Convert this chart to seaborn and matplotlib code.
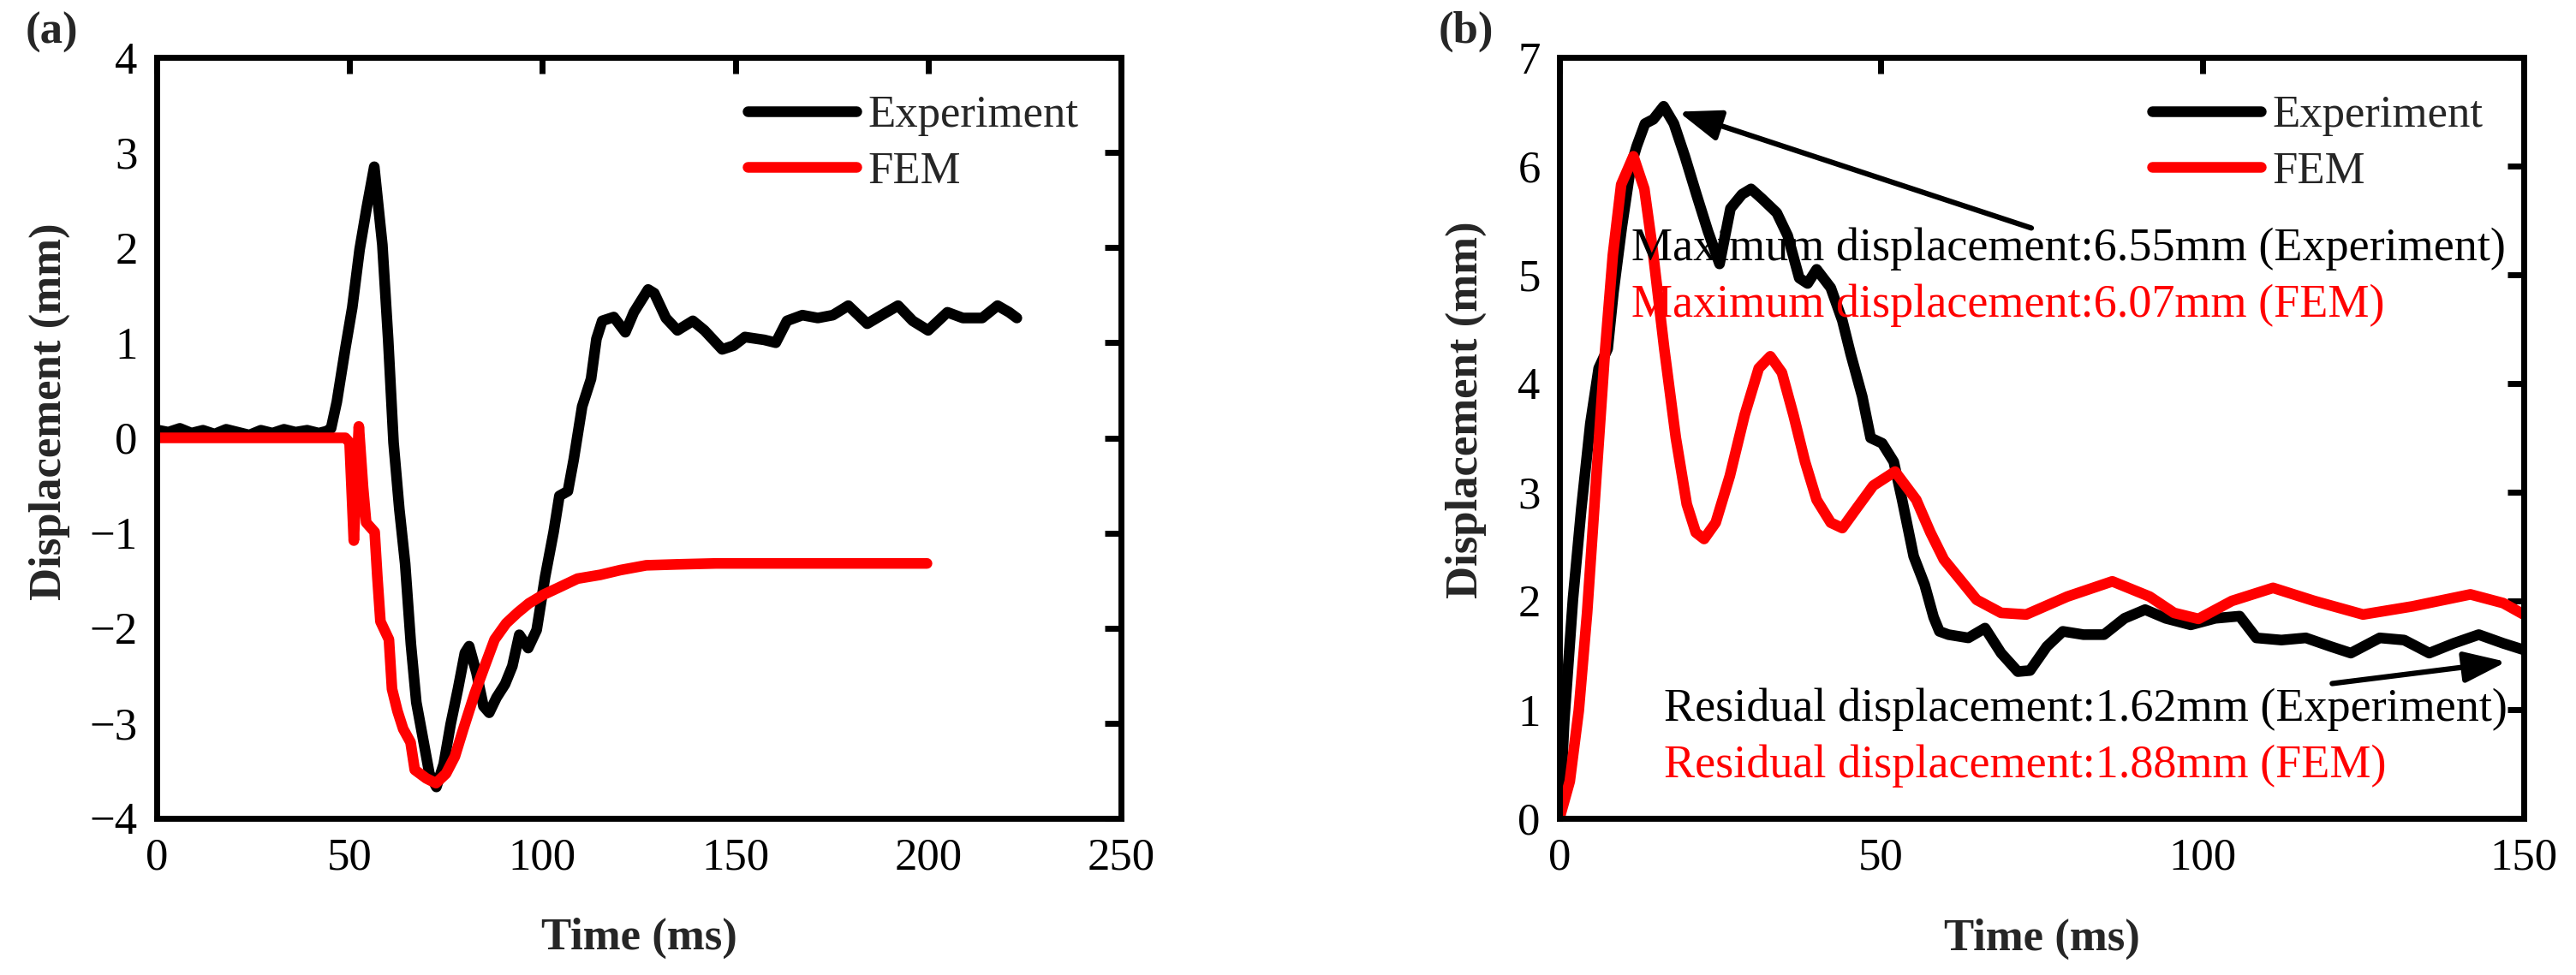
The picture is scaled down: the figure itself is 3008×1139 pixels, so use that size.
import matplotlib
matplotlib.use("Agg")
import matplotlib.pyplot as plt
import seaborn as sns

# (a) time / displacement
a_exp_t = [0.5, 3, 6, 9, 12, 15, 18, 21, 24, 27, 30, 33, 36, 39, 42, 44, 45.2, 46.7, 48.9, 50.7,
           52.6, 54.4, 56.4, 58.5, 60, 61.4, 62.9, 64.4, 65.9, 67.3, 68.8, 70.7, 72.5, 74.4, 76.2,
           78.1, 79.9, 81.0, 82.9, 84.7, 86.2, 88.1, 90.3, 92.2, 94.0, 96.3, 98.5, 100.7, 102.9,
           104.4, 106.6, 108.1, 110.3, 112.6, 114.0, 115.5, 118.5, 121.5, 123.7, 127.4, 129, 132,
           135, 139, 142, 146.6, 149.6, 152.5, 157.5, 160.5, 163.4, 167.4, 171.4, 175.3, 179.3,
           184.2, 189.2, 192.2, 196, 200, 205, 209, 214, 218, 221, 223]
a_exp_y = [0.08, 0.06, 0.1, 0.05, 0.08, 0.04, 0.09, 0.06, 0.03, 0.08, 0.05, 0.09, 0.06, 0.08, 0.05,
           0.07, 0.1, 0.38, 0.94, 1.37, 1.98, 2.41, 2.85, 2.03, 1.04, -0.05, -0.75, -1.32, -2.17,
           -2.78, -3.11, -3.53, -3.67, -3.43, -3.01, -2.64, -2.26, -2.19, -2.47, -2.82, -2.89,
           -2.73, -2.59, -2.40, -2.07, -2.21, -2.02, -1.46, -0.99, -0.61, -0.56, -0.23, 0.33, 0.62,
           1.04, 1.23, 1.27, 1.11, 1.32, 1.56, 1.52, 1.26, 1.13, 1.23, 1.13, 0.93, 0.97, 1.06, 1.03,
           1.0, 1.23, 1.29, 1.26, 1.29, 1.39, 1.2, 1.32, 1.39, 1.23, 1.13, 1.32, 1.26, 1.26, 1.39,
           1.32, 1.26]
a_fem_t = [0.5, 10, 20, 30, 40, 48.9, 50, 51.1, 52.4, 53.5, 54.3, 56.5, 57.2, 58, 60.2, 61, 62.4,
           63.9, 65.8, 66.9, 69.9, 72.4, 75, 77.3, 79.5, 82.5, 85.4, 87.6, 90.6, 93.5, 96.5, 100.2,
           103.9, 109.1, 115, 120.2, 126.9, 135, 145, 160, 180, 199.7]
a_fem_y = [0, 0, 0, 0, 0, 0, -0.05, -1.08, 0.12, -0.52, -0.89, -0.99, -1.46, -1.93, -2.12, -2.64,
           -2.87, -3.06, -3.20, -3.49, -3.58, -3.63, -3.53, -3.35, -3.06, -2.68, -2.36, -2.12,
           -1.95, -1.84, -1.74, -1.65, -1.58, -1.48, -1.44, -1.39, -1.34, -1.33, -1.32, -1.32,
           -1.32, -1.32]

# (b)
b_exp_t = [0, 0.75, 2.1, 3.4, 4.8, 6.1, 7.5, 8.4, 9.7, 11.1, 12.0, 13.3, 14.6, 16.2, 17.8, 19.5,
           21.3, 23.1, 24.9, 26.6, 28.4, 29.8, 31.5, 33.8, 35.5, 37.3, 38.6, 40, 42.2, 44, 45.3,
           47.1, 48.4, 50.2, 52, 53.3, 55.1, 56.8, 58.2, 59.1, 60.5, 63.6, 66.2, 68.7, 71.3, 73.2,
           75.8, 78.3, 81.5, 84.7, 87.9, 91.1, 94.3, 98.2, 102, 105.8, 108.4, 112.3, 116.1, 120,
           123.1, 127.6, 131.4, 135.3, 139.1, 143, 146.8, 150]
b_exp_y = [0, 0.9, 2.02, 2.85, 3.63, 4.14, 4.32, 4.84, 5.44, 6.0, 6.18, 6.39, 6.43, 6.55, 6.39,
           6.09, 5.74, 5.40, 5.10, 5.61, 5.74, 5.79, 5.70, 5.57, 5.36, 4.97, 4.92, 5.05, 4.88, 4.58,
           4.27, 3.88, 3.50, 3.45, 3.28, 2.93, 2.41, 2.15, 1.85, 1.72, 1.69, 1.66, 1.75, 1.52, 1.35,
           1.36, 1.58, 1.72, 1.69, 1.69, 1.84, 1.92, 1.84, 1.78, 1.84, 1.86, 1.66, 1.64, 1.66, 1.58,
           1.52, 1.66, 1.64, 1.52, 1.61, 1.69, 1.61, 1.55]
b_fem_t = [0, 1.6, 3.0, 4.3, 5.6, 7.0, 8.3, 9.6, 11.5, 13.2, 14.5, 16.3, 18.1, 19.8, 21.2, 22.5,
           24.3, 26.5, 28.8, 31.0, 32.8, 34.6, 36.4, 38.2, 40, 42.2, 44, 46.2, 48.8, 52.2, 55.5,
           57.7, 59.8, 64.9, 68.7, 72.6, 79, 86, 91.8, 95.6, 99.4, 104.6, 111, 117.4, 125, 132.7,
           141.7, 146.8, 150]
b_fem_y = [0, 0.34, 0.99, 1.89, 3.02, 4.23, 5.18, 5.83, 6.09, 5.79, 5.23, 4.32, 3.50, 2.89, 2.63,
           2.57, 2.72, 3.15, 3.71, 4.14, 4.25, 4.10, 3.71, 3.28, 2.93, 2.72, 2.67, 2.85, 3.06, 3.19,
           2.93, 2.63, 2.38, 2.01, 1.89, 1.875, 2.04, 2.18, 2.04, 1.89, 1.835, 2.0, 2.12, 2.0, 1.875,
           1.95, 2.06, 1.98, 1.875]

a_xticks = [0, 50, 100, 150, 200, 250]
a_yticks = [-4, -3, -2, -1, 0, 1, 2, 3, 4]
b_xticks = [0, 50, 100, 150]
b_yticks = [0, 1, 2, 3, 4, 5, 6, 7]

max_exp_txt = "Maximum displacement:6.55mm (Experiment)"
max_fem_txt = "Maximum displacement:6.07mm (FEM)"
res_exp_txt = "Residual displacement:1.62mm (Experiment)"
res_fem_txt = "Residual displacement:1.88mm (FEM)"

sns.set_theme(style="white")
plt.rcParams["font.family"] = ["Liberation Serif", "DejaVu Serif"]

FS = 38
LW = 9
RED = "#ff0000"

fig = plt.figure(figsize=(30.08, 11.39), dpi=100)
W, H = 3008.0, 1139.0
ax_a = fig.add_axes([183 / W, (H - 956) / H, 1126 / W, 889 / H])
ax_b = fig.add_axes([1821 / W, (H - 956) / H, 1126 / W, 889 / H])


def style_axis(ax, xlim, ylim, xt, yt):
    ax.set_xlim(*xlim)
    ax.set_ylim(*ylim)
    ax.set_xticks(xt)
    ax.set_yticks(yt)
    ax.tick_params(direction="in", length=14, width=5, top=True, right=True,
                   labelsize=FS, pad=16, colors="black")
    for sp in ax.spines.values():
        sp.set_visible(True)
        sp.set_linewidth(5)
        sp.set_color("black")
    ax.set_xlabel("")
    ax.set_ylabel("")
    ax.grid(False)


sns.lineplot(x=a_exp_t, y=a_exp_y, ax=ax_a, color="black", lw=LW, label="Experiment",
             solid_joinstyle="round", solid_capstyle="round")
sns.lineplot(x=a_fem_t, y=a_fem_y, ax=ax_a, color=RED, lw=LW, label="FEM",
             solid_joinstyle="round", solid_capstyle="round")
style_axis(ax_a, (0, 250), (-4, 4), a_xticks, a_yticks)

sns.lineplot(x=b_exp_t, y=b_exp_y, ax=ax_b, color="black", lw=LW, label="Experiment",
             solid_joinstyle="round", solid_capstyle="round")
sns.lineplot(x=b_fem_t, y=b_fem_y, ax=ax_b, color=RED, lw=LW, label="FEM",
             solid_joinstyle="round", solid_capstyle="round")
style_axis(ax_b, (0, 150), (0, 7), b_xticks, b_yticks)

for ax, lx in [(ax_a, 0.613), (ax_b, 0.615)]:
    leg = ax.legend(loc="upper left", bbox_to_anchor=(lx, 0.95), frameon=False,
                    fontsize=FS, handlelength=2.4, handletextpad=0.25,
                    labelspacing=0.33, borderpad=0, borderaxespad=0)
    for h in leg.get_lines():
        h.set_linewidth(LW)

# annotations in (b)
AFS = 39
ax_b.text(11.2, 5.24, max_exp_txt, fontsize=AFS, color="black", ha="left", va="center")
ax_b.text(11.2, 4.72, max_fem_txt, fontsize=AFS, color=RED, ha="left", va="center")
ax_b.text(16.3, 1.0, res_exp_txt, fontsize=AFS, color="black", ha="left", va="center")
ax_b.text(16.3, 0.48, res_fem_txt, fontsize=AFS, color=RED, ha="left", va="center")

arrow = dict(arrowstyle="-|>,head_length=1.5,head_width=0.55", color="black", lw=4.5,
             mutation_scale=20, shrinkA=0, shrinkB=0)
ax_b.annotate("", xy=(18.5, 6.5), xytext=(73.4, 5.43), arrowprops=arrow)
ax_b.annotate("", xy=(147.3, 1.44), xytext=(120.2, 1.24), arrowprops=arrow)

# axis titles and panel tags
fig.text(58 / W, 1 - 481 / H, "Displacement (mm)", rotation=90, fontsize=FS,
         fontweight="bold", ha="center", va="center")
fig.text(1712 / W, 1 - 479 / H, "Displacement (mm)", rotation=90, fontsize=FS,
         fontweight="bold", ha="center", va="center")
fig.text(746 / W, 1 - 1096 / H, "Time (ms)", fontsize=FS, fontweight="bold",
         ha="center", va="center")
fig.text(2384 / W, 1 - 1097 / H, "Time (ms)", fontsize=FS, fontweight="bold",
         ha="center", va="center")
fig.text(60 / W, 1 - 38 / H, "(a)", fontsize=FS, fontweight="bold", ha="center", va="center")
fig.text(1712 / W, 1 - 37 / H, "(b)", fontsize=FS, fontweight="bold", ha="center", va="center")

fig.savefig("out.png", dpi=100, facecolor="white")
